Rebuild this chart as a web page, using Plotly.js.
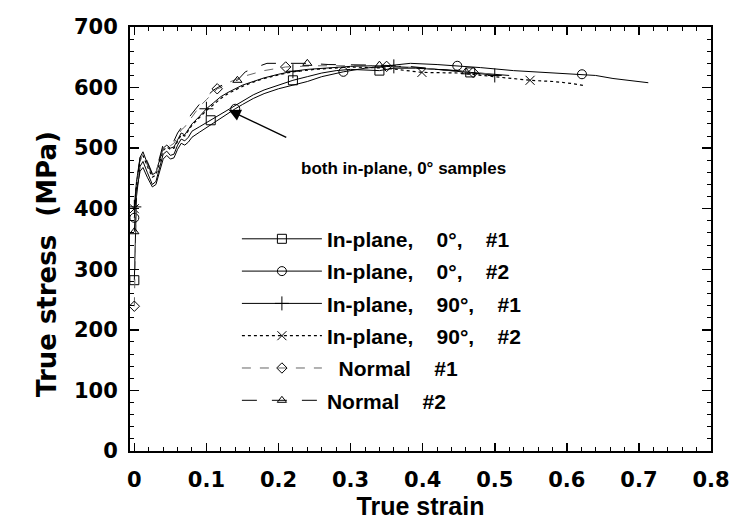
<!DOCTYPE html>
<html>
<head>
<meta charset="utf-8">
<script src="https://cdn.plot.ly/plotly-3.0.1.min.js"></script>
<style>html,body{margin:0;padding:0;background:#fff;}#chart{width:734px;height:522px;}</style>
</head>
<body>
<div id="chart"></div>
<script>
// ---- data (strain, MPa) ----
const seriesNames = ["In-plane,\u00a0\u00a0\u00a0 0°,\u00a0\u00a0\u00a0 #1", "In-plane,\u00a0\u00a0\u00a0 0°,\u00a0\u00a0\u00a0 #2", "In-plane,\u00a0\u00a0\u00a0 90°,\u00a0\u00a0\u00a0 #1", "In-plane,\u00a0\u00a0\u00a0 90°,\u00a0\u00a0\u00a0 #2", "\u00a0\u00a0Normal\u00a0\u00a0\u00a0 #1", "Normal\u00a0\u00a0\u00a0 #2"];

const ip0_1_strain = [0, 0.003, 0.008, 0.012, 0.018, 0.025, 0.03, 0.035, 0.04, 0.045, 0.05, 0.055, 0.06, 0.065, 0.07, 0.075, 0.08, 0.09, 0.1, 0.106, 0.12, 0.13, 0.14, 0.15, 0.165, 0.18, 0.2, 0.22, 0.24, 0.26, 0.28, 0.3, 0.34, 0.36, 0.39, 0.42, 0.45, 0.466, 0.5, 0.52];
const ip0_1_stress = [282, 420, 470, 478, 460, 440, 445, 470, 490, 495, 488, 490, 505, 515, 512, 518, 528, 535, 542, 546, 556, 563, 570, 578, 588, 596, 604, 612, 618, 624, 628, 630, 628, 632, 632, 630, 628, 625, 622, 620];
const ip0_1_marks = [0, 19, 27, 32, 37];

const ip0_2_strain = [0, 0.003, 0.008, 0.012, 0.018, 0.025, 0.03, 0.035, 0.04, 0.045, 0.05, 0.055, 0.06, 0.065, 0.07, 0.075, 0.08, 0.09, 0.1, 0.11, 0.12, 0.13, 0.14, 0.15, 0.165, 0.18, 0.2, 0.22, 0.24, 0.26, 0.29, 0.32, 0.35, 0.383, 0.42, 0.448, 0.48, 0.526, 0.556, 0.586, 0.621, 0.64, 0.664, 0.69, 0.713];
const ip0_2_stress = [385, 430, 462, 468, 452, 436, 440, 462, 482, 488, 482, 484, 498, 508, 505, 510, 518, 526, 534, 542, 550, 557, 565, 572, 582, 590, 598, 604, 610, 618, 626, 632, 636, 640, 638, 636, 633, 628, 626, 624, 622, 620, 615, 611, 608];
const ip0_2_marks = [0, 22, 30, 35, 40];

const ip90_1_strain = [0, 0.003, 0.008, 0.012, 0.018, 0.025, 0.03, 0.035, 0.04, 0.045, 0.05, 0.055, 0.06, 0.065, 0.07, 0.075, 0.08, 0.09, 0.1, 0.11, 0.12, 0.13, 0.14, 0.15, 0.165, 0.18, 0.2, 0.22, 0.24, 0.26, 0.28, 0.3, 0.33, 0.36, 0.39, 0.42, 0.45, 0.48, 0.5];
const ip90_1_stress = [403, 445, 485, 494, 475, 456, 460, 482, 500, 505, 500, 502, 515, 525, 522, 530, 540, 552, 565, 575, 585, 592, 598, 604, 610, 616, 622, 627, 630, 632, 634, 635, 636, 635, 633, 630, 627, 623, 620];
const ip90_1_marks = [0, 18, 27, 33, 38];

const ip90_2_strain = [0, 0.003, 0.008, 0.012, 0.018, 0.025, 0.03, 0.035, 0.04, 0.045, 0.05, 0.055, 0.06, 0.065, 0.07, 0.075, 0.08, 0.09, 0.1, 0.11, 0.12, 0.13, 0.14, 0.15, 0.165, 0.18, 0.2, 0.22, 0.25, 0.28, 0.3, 0.35, 0.399, 0.45, 0.5, 0.549, 0.581, 0.605, 0.625];
const ip90_2_stress = [400, 440, 480, 488, 470, 452, 456, 478, 496, 502, 498, 500, 512, 522, 520, 528, 538, 550, 562, 572, 582, 590, 596, 602, 609, 615, 621, 626, 630, 633, 634, 632, 625, 624, 618, 612, 610, 607, 603];
const ip90_2_marks = [0, 32, 35];

const n1_strain = [0, 0.003, 0.008, 0.012, 0.018, 0.025, 0.03, 0.035, 0.04, 0.045, 0.05, 0.055, 0.06, 0.065, 0.07, 0.08, 0.09, 0.1, 0.11, 0.115, 0.12, 0.13, 0.15, 0.18, 0.21, 0.25, 0.3, 0.35, 0.4, 0.45, 0.47, 0.5];
const n1_stress = [239, 430, 480, 490, 472, 455, 460, 482, 502, 508, 504, 508, 520, 530, 535, 552, 568, 580, 592, 598, 600, 608, 618, 628, 634, 636, 636, 635, 632, 627, 625, 622];
const n1_marks = [0, 19, 24, 27, 30];

const n2_strain = [0, 0.003, 0.008, 0.012, 0.018, 0.025, 0.03, 0.035, 0.04, 0.045, 0.05, 0.055, 0.06, 0.07, 0.08, 0.09, 0.1, 0.11, 0.12, 0.13, 0.143, 0.154, 0.17, 0.184, 0.21, 0.24, 0.27, 0.3, 0.34, 0.38, 0.42, 0.46, 0.48];
const n2_stress = [362, 440, 484, 494, 478, 458, 462, 486, 506, 512, 508, 512, 525, 542, 558, 572, 585, 596, 603, 608, 612, 626, 634, 640, 640, 640, 638, 638, 637, 635, 630, 626, 622];
const n2_marks = [0, 20, 25, 28, 31];

// ---- styles ----
const styles = [
  {dash: "solid", color: "#000", width: 1, symbol: "square-open", size: 9},
  {dash: "solid", color: "#000", width: 1, symbol: "circle-open", size: 9},
  {dash: "solid", color: "#000", width: 1, symbol: "cross-thin-open", size: 10},
  {dash: "dot", color: "#000", width: 1.2, symbol: "x-thin-open", size: 9},
  {dash: "dash", color: "#666", width: 1, symbol: "diamond-open", size: 8},
  {dash: "longdash", color: "#000", width: 1, symbol: "triangle-up-open", size: 8}
];
const allSeries = [
  [ip0_1_strain, ip0_1_stress, ip0_1_marks],
  [ip0_2_strain, ip0_2_stress, ip0_2_marks],
  [ip90_1_strain, ip90_1_stress, ip90_1_marks],
  [ip90_2_strain, ip90_2_stress, ip90_2_marks],
  [n1_strain, n1_stress, n1_marks],
  [n2_strain, n2_stress, n2_marks]
];

const traces = [];
allSeries.forEach((s, i) => {
  const st = styles[i];
  traces.push({
    x: s[0], y: s[1], mode: "lines", type: "scatter",
    line: {color: st.color, width: st.width, dash: st.dash},
    showlegend: false, legendgroup: "g" + i, hoverinfo: "skip"
  });
  const mx = [], my = [];
  s[2].forEach(k => { mx.push(s[0][k], null); my.push(s[1][k], null); });
  traces.push({
    x: mx, y: my, mode: "lines+markers", type: "scatter", connectgaps: false,
    name: seriesNames[i], legendgroup: "g" + i,
    line: {color: st.color, width: st.width, dash: st.dash},
    marker: {symbol: st.symbol, size: st.size, color: "#000", line: {color: "#000", width: 1}}
  });
});

const tickFont = {family: "DejaVu Sans", size: 21, color: "#000", weight: "bold"};
const layout = {
  width: 734, height: 522,
  margin: {l: 130, r: 23, t: 27, b: 71},
  paper_bgcolor: "#fff", plot_bgcolor: "#fff",
  showlegend: true,
  legend: {
    x: 0.184, y: 0.548, xanchor: "left", yanchor: "top",
    bgcolor: "rgba(0,0,0,0)", borderwidth: 0,
    font: {family: "Liberation Sans", size: 21, color: "#000", weight: "bold"},
    tracegroupgap: 2, itemwidth: 80
  },
  xaxis: {
    range: [-0.006, 0.8], tick0: 0, dtick: 0.1,
    ticks: "inside", ticklen: 8, tickwidth: 1.5, tickcolor: "#000",
    showline: true, linewidth: 2, linecolor: "#000", mirror: "allticks",
    showgrid: false, zeroline: false,
    minor: {dtick: 0.02, ticks: "inside", ticklen: 4, tickwidth: 1, tickcolor: "#000", showgrid: false},
    tickfont: tickFont, ticklabelstandoff: 9,
    title: {text: "True strain", font: {family: "Liberation Sans", size: 25, color: "#000", weight: "bold"}, standoff: 5}
  },
  yaxis: {
    range: [0, 700], tick0: 0, dtick: 100,
    ticks: "inside", ticklen: 9, tickwidth: 1.5, tickcolor: "#000",
    showline: true, linewidth: 2, linecolor: "#000", mirror: "allticks",
    showgrid: false, zeroline: false,
    minor: {dtick: 20, ticks: "inside", ticklen: 4, tickwidth: 1, tickcolor: "#000", showgrid: false},
    tickfont: tickFont, ticklabelstandoff: 6
  },
  annotations: [
    {x: 0.131, y: 563, xref: "x", yref: "y", text: "", showarrow: true,
     ax: 59, ay: 28, arrowhead: 2, arrowsize: 1.7, arrowwidth: 1.4, arrowcolor: "#000"},
    {x: 0.373, y: 467, xref: "x", yref: "y", text: "both in-plane, 0° samples", showarrow: false,
     font: {family: "Liberation Sans", size: 17, color: "#000", weight: "bold"}},
    {x: 30, y: 264, xref: "paper", yref: "paper", text: "True stress\u00a0 (MPa)", showarrow: false,
     textangle: -90, font: {family: "DejaVu Sans", size: 26, color: "#000", weight: "bold"}}
  ]
};
// y-axis title placed in pixel terms converted to paper coordinates
const plotW = 734 - 130 - 23, plotH = 522 - 27 - 71;
layout.annotations[2].x = (30 - 130) / plotW;
layout.annotations[2].y = (522 - 71 - 264) / plotH;

Plotly.newPlot("chart", traces, layout, {displayModeBar: false, staticPlot: true});
</script>
</body>
</html>
